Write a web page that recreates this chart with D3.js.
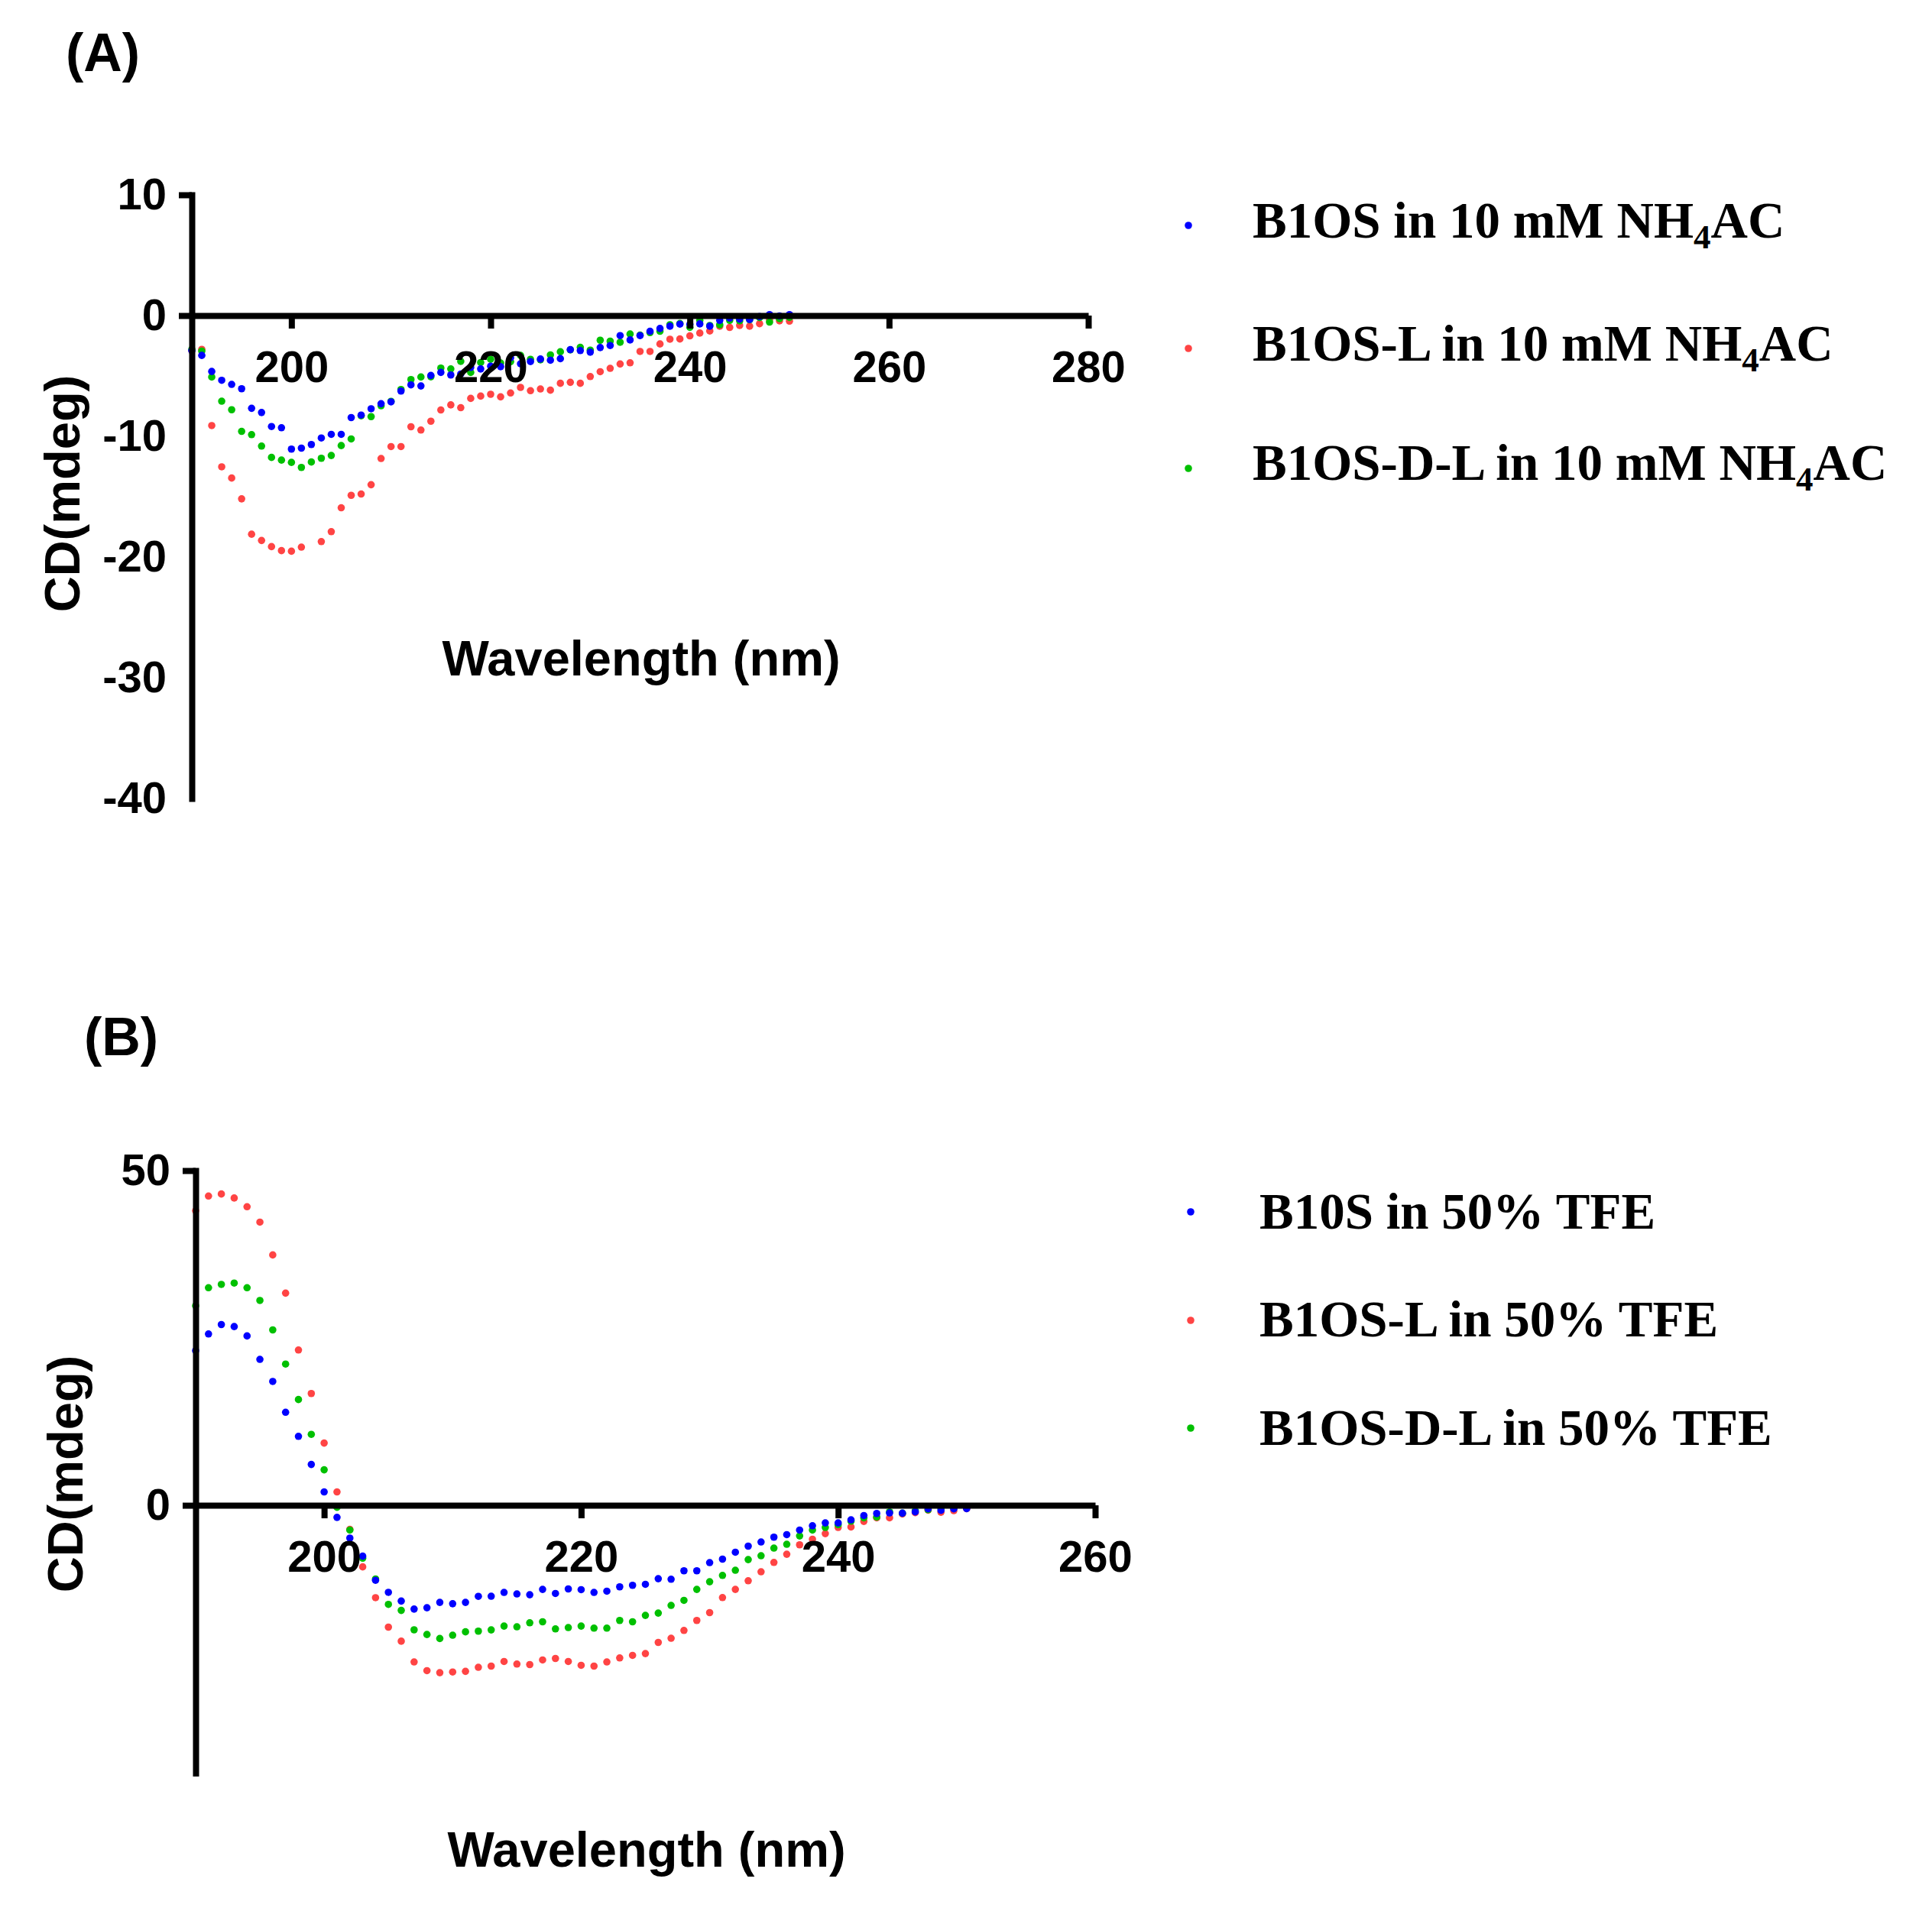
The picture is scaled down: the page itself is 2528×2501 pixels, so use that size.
<!DOCTYPE html>
<html>
<head>
<meta charset="utf-8">
<script src="https://cdn.jsdelivr.net/npm/d3@7"></script>
<style>
  html, body { margin: 0; padding: 0; background: #fff; }
  svg { display: block; }
</style>
</head>
<body>
<svg id="chart" width="2528" height="2501"></svg>
<script>
// ---------- DATA ----------
const wavelengths = [190,191,192,193,194,195,196,197,198,199,200,201,202,203,204,205,206,207,208,209,210,
  211,212,213,214,215,216,217,218,219,220,221,222,223,224,225,226,227,228,229,230,
  231,232,233,234,235,236,237,238,239,240,241,242,243,244,245,246,247,248,249,250];

// Panel A: 10 mM NH4AC
const aB1OS = [-2.90,-3.30,-4.63,-5.36,-5.70,-6.06,-7.68,-8.03,-9.19,-9.29,-11.06,-10.98,-10.68,-10.14,-9.84,-9.84,-8.45,-8.24,-7.72,-7.30,-7.15,
  -6.25,-5.74,-5.83,-4.96,-4.71,-4.92,-4.84,-4.29,-4.42,-4.19,-4.23,-3.49,-3.99,-3.81,-3.60,-3.70,-3.57,-2.82,-2.90,-3.03,
  -2.65,-2.48,-1.66,-2.02,-1.66,-1.30,-1.07,-0.88,-0.71,-0.73,-0.69,-0.88,-0.40,-0.21,-0.29,-0.33,-0.08,0.08,-0.03,0.08];
const aB1OS_L = [-2.90,-2.80,-9.11,-12.53,-13.46,-15.18,-18.11,-18.63,-19.14,-19.47,-19.52,-19.18,null,-18.72,-17.90,-15.92,-14.89,-14.78,-14.01,-11.84,-10.85,
  -10.85,-9.21,-9.48,-8.75,-7.82,-7.40,-7.63,-6.86,-6.67,-6.52,-6.73,-6.41,-5.95,-6.22,-6.08,-6.18,-5.61,-5.53,-5.61,-5.05,
  -4.65,-4.37,-4.01,-3.91,-2.97,-2.97,-2.35,-1.96,-1.94,-1.68,-1.45,-1.28,-0.88,-0.98,-0.82,-0.88,-0.67,-0.35,-0.44,-0.46];
const aB1OS_DL = [-2.80,-2.94,-5.09,-7.09,-7.80,-9.59,-9.86,-10.81,-11.75,-11.97,-12.16,-12.58,-12.13,-11.82,-11.59,-10.77,-10.22,-8.30,-8.37,-7.47,-7.10,
  -6.12,-5.30,-5.09,-5.07,-4.35,-4.42,-3.79,-4.71,-3.89,-3.62,-3.93,-3.82,-3.30,-3.62,-3.66,-3.26,-3.00,-2.84,-2.63,-2.86,
  -2.04,-2.12,-2.21,-1.53,-1.62,-1.41,-1.30,-0.76,-0.65,-0.97,-0.40,-0.82,-0.76,-0.40,-0.44,-0.35,-0.17,-0.54,-0.25,-0.15];

// Panel B: 50% TFE
const bB10S = [23.1,25.6,27.0,26.7,25.3,21.8,18.5,13.9,10.3,6.1,2.0,-1.8,-4.9,-7.6,-11.2,-13.0,-14.3,-15.5,-15.3,-14.5,-14.7,
  -14.5,-13.6,-13.58,-13.01,-13.24,-13.36,-12.56,-13.17,-12.49,-12.60,-13.01,-12.83,-12.18,-11.95,-11.80,-10.96,-11.04,-9.78,-9.78,-8.56,
  -8.04,-7.01,-6.10,-5.48,-4.76,-4.38,-3.70,-3.05,-2.63,-2.63,-2.17,-1.53,-1.22,-1.14,-1.18,-0.99,-0.53,-0.76,-0.53,-0.50];
const bB1OS_L = [44.0,46.2,46.5,45.9,44.6,42.3,37.4,31.7,23.2,16.7,9.3,2.0,-3.6,-9.2,-13.8,-18.2,-20.3,-23.4,-24.7,-25.0,-24.9,
  -24.8,-24.2,-24.02,-23.33,-23.71,-23.79,-23.10,-22.88,-23.33,-23.90,-24.02,-23.40,-22.80,-22.42,-22.15,-20.48,-19.86,-18.69,-17.20,-16.03,
  -13.78,-12.56,-11.27,-9.93,-8.53,-7.31,-5.90,-5.07,-4.23,-3.31,-3.24,-2.40,-1.87,-1.87,-1.30,-1.10,-0.73,-1.03,-0.80,-0.50];
const bB1OS_DL = [29.8,32.5,33.0,33.2,32.5,30.6,26.2,21.1,15.8,10.6,5.3,-0.3,-3.7,-7.9,-11.0,-14.8,-15.7,-18.6,-19.3,-19.9,-19.4,
  -18.9,-18.8,-18.61,-18.04,-18.15,-17.55,-17.40,-18.46,-18.26,-18.04,-18.35,-18.35,-17.20,-17.40,-16.44,-16.10,-14.95,-14.20,-12.56,-11.42,
  -10.47,-9.70,-8.11,-7.53,-6.39,-5.82,-4.57,-3.70,-3.31,-2.90,-2.36,-1.87,-1.76,-0.99,-1.18,-0.80,-0.65,-0.46,-0.46,-0.27];

// Tick labels
const aXTicks = [200, 220, 240, 260, 280];
const aYTicks = [10, 0, -10, -20, -30, -40];
const aYTickMarks = [10, 0];
const bXTicks = [200, 220, 240, 260];
const bYTicks = [50, 0];

// Legends
const legendA = [
  {pre: "B1OS in 10 mM NH", sub: "4", post: "AC"},
  {pre: "B1OS-L in 10 mM NH", sub: "4", post: "AC"},
  {pre: "B1OS-D-L in 10 mM NH", sub: "4", post: "AC"}
];
const legendB = ["B10S in 50% TFE", "B1OS-L in 50% TFE", "B1OS-D-L in 50% TFE"];

const colors = {blue: "#0000FF", red: "#FF4444", green: "#00C000"};

// ---------- DRAW ----------
const svg = d3.select("#chart");
const SANS = "'Liberation Sans', Arial, sans-serif";
const SERIF = "'Liberation Serif', 'Times New Roman', serif";
const AXW = 8;

function panel(cfg) {
  const x = d3.scaleLinear().domain(cfg.xDomain).range(cfg.xRange);
  const y = d3.scaleLinear().domain(cfg.yDomain).range(cfg.yRange);
  const g = svg.append("g");

  // points: red, green, blue (blue on top)
  cfg.series.forEach(s => {
    const pts = wavelengths.map((w, i) => ({w, v: s.values[i]})).filter(d => d.v !== null);
    g.append("g").selectAll("circle").data(pts).join("circle")
      .attr("cx", d => x(d.w)).attr("cy", d => y(d.v))
      .attr("r", 4.8).attr("fill", s.color);
  });

  // y axis
  const yAxis = d3.axisLeft(y).tickValues(cfg.yTicks).tickSize(17).tickSizeOuter(0)
    .tickFormat(d => String(d));
  const gy = g.append("g").attr("transform", `translate(${x(cfg.xDomain[0])},0)`).call(yAxis);
  gy.select(".domain").attr("stroke", "#000").attr("stroke-width", AXW).attr("stroke-linecap", "square");
  gy.selectAll(".tick line").attr("stroke", "#000").attr("stroke-width", AXW)
    .attr("display", d => cfg.yTickMarks.includes(d) ? null : "none");
  gy.selectAll(".tick text").attr("x", -33).attr("dy", "0.32em")
    .attr("font-family", SANS).attr("font-weight", "bold").attr("font-size", 58).attr("fill", "#000");

  // x axis at y=0
  const xAxis = d3.axisBottom(x).tickValues(cfg.xTicks).tickSize(17).tickSizeOuter(0)
    .tickFormat(d => String(d));
  const gx = g.append("g").attr("transform", `translate(0,${y(0)})`).call(xAxis);
  gx.select(".domain").attr("stroke", "#000").attr("stroke-width", AXW);
  gx.selectAll(".tick line").attr("stroke", "#000").attr("stroke-width", AXW);
  gx.selectAll(".tick text").attr("y", 87).attr("dy", 0)
    .attr("font-family", SANS).attr("font-weight", "bold").attr("font-size", 58).attr("fill", "#000");

  // axis titles
  g.append("text").attr("x", cfg.xTitle[0]).attr("y", cfg.xTitle[1])
    .attr("text-anchor", "middle").attr("font-family", SANS).attr("font-weight", "bold")
    .attr("font-size", 65).text("Wavelength (nm)");
  g.append("text").attr("transform", `translate(${cfg.yTitle[0]},${cfg.yTitle[1]}) rotate(-90)`)
    .attr("text-anchor", "middle").attr("font-family", SANS).attr("font-weight", "bold")
    .attr("font-size", 65).text("CD(mdeg)");

  // panel label
  g.append("text").attr("x", cfg.label[0]).attr("y", cfg.label[1])
    .attr("font-family", SANS).attr("font-weight", "bold").attr("font-size", 70).text(cfg.label[2]);
}

panel({
  xDomain: [190, 280], xRange: [251, 1424],
  yDomain: [-40, 10], yRange: [1045, 255],
  xTicks: aXTicks, yTicks: aYTicks, yTickMarks: aYTickMarks,
  series: [
    {values: aB1OS_L, color: colors.red},
    {values: aB1OS_DL, color: colors.green},
    {values: aB1OS, color: colors.blue}
  ],
  xTitle: [839, 884], yTitle: [104, 646], label: [86, 93, "(A)"]
});

panel({
  xDomain: [190, 260], xRange: [256, 1433],
  yDomain: [-40, 50], yRange: [2320.5, 1532],
  xTicks: bXTicks, yTicks: bYTicks, yTickMarks: bYTicks,
  series: [
    {values: bB1OS_L, color: colors.red},
    {values: bB1OS_DL, color: colors.green},
    {values: bB10S, color: colors.blue}
  ],
  xTitle: [846, 2443], yTitle: [108, 1929], label: [110, 1381, "(B)"]
});

// Legend A
const legAColors = [colors.blue, colors.red, colors.green];
const legARowsDot = [295, 456, 613];
const legARowsBase = [311, 472, 628];
const gLA = svg.append("g");
legendA.forEach((d, i) => {
  gLA.append("circle").attr("cx", 1555).attr("cy", legARowsDot[i]).attr("r", 4.8).attr("fill", legAColors[i]);
  const t = gLA.append("text").attr("x", 1639).attr("y", legARowsBase[i])
    .attr("font-family", SERIF).attr("font-weight", "bold").attr("font-size", 67);
  t.append("tspan").text(d.pre);
  t.append("tspan").attr("font-size", 45).attr("dy", 14).text(d.sub);
  t.append("tspan").attr("dy", -14).text(d.post);
});

// Legend B
const legBRowsDot = [1586, 1728, 1869];
const legBRowsBase = [1608, 1749, 1891];
const gLB = svg.append("g");
legendB.forEach((d, i) => {
  gLB.append("circle").attr("cx", 1558).attr("cy", legBRowsDot[i]).attr("r", 4.8).attr("fill", legAColors[i]);
  gLB.append("text").attr("x", 1648).attr("y", legBRowsBase[i])
    .attr("font-family", SERIF).attr("font-weight", "bold").attr("font-size", 67).text(d);
});
</script>
</body>
</html>
